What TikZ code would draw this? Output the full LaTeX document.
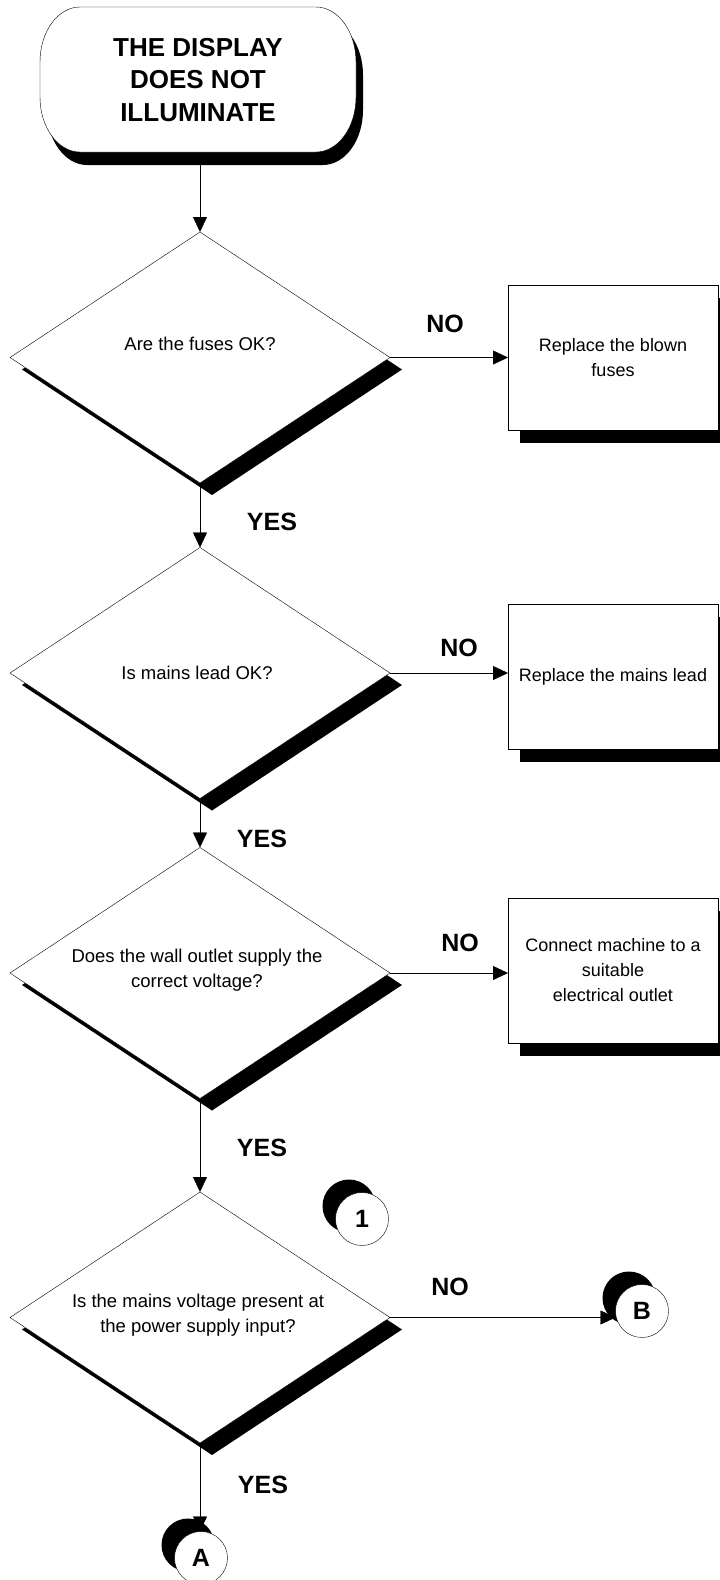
\documentclass[tikz,border=0pt]{standalone}
\usepackage{fontspec}
\setmainfont{Liberation Sans}
\usetikzlibrary{shapes.geometric,shadows,arrows.meta}
\pgfdeclarelayer{background}
\pgfsetlayers{background,main}
\begin{document}
\begin{tikzpicture}[x=1pt,y=1pt,line width=0.7pt,
  solidshade/.style 2 args={drop shadow={shadow xshift=#1,shadow yshift=#2,fill=black,opacity=1}},
  decision/.style={diamond,draw,fill=white,minimum width=380pt,minimum height=251pt,
    inner sep=0pt,outer sep=0pt,solidshade={12pt}{-12pt}},
  action/.style={rectangle,draw,fill=white,minimum width=210pt,minimum height=145pt,
    inner sep=0pt,outer sep=0pt,align=center,font=\fontsize{18}{25}\selectfont,
    solidshade={12pt}{-13pt}},
  qtext/.style={align=center,inner sep=0pt,font=\fontsize{18.5}{25}\selectfont},
  answer/.style={inner sep=0pt,font=\fontsize{25}{30}\selectfont\bfseries},
  joint/.style={circle,draw,fill=white,minimum size=53pt,inner sep=0pt,outer sep=0pt,
    font=\fontsize{25}{30}\selectfont\bfseries,solidshade={-13pt}{13pt}},
  flow/.style={-{Triangle[length=15pt,width=14pt]}}]

\useasboundingbox (0,0) rectangle (720,-1580);
\begin{pgfonlayer}{background}
  \fill[white] (0,0) rectangle (720,-1580);
\end{pgfonlayer}

% start terminal: shadow, then outline
\fill[black,shift={(7,-13)}] (80,-7) -- (316,-7)
  arc[start angle=90,end angle=0,x radius=40,y radius=55] -- (356,-97)
  arc[start angle=0,end angle=-90,x radius=40,y radius=55] -- (80,-152)
  arc[start angle=270,end angle=180,x radius=40,y radius=55] -- (40,-62)
  arc[start angle=180,end angle=90,x radius=40,y radius=55] -- cycle;
\draw[fill=white] (80,-7) -- (316,-7)
  arc[start angle=90,end angle=0,x radius=40,y radius=55] -- (356,-97)
  arc[start angle=0,end angle=-90,x radius=40,y radius=55] -- (80,-152)
  arc[start angle=270,end angle=180,x radius=40,y radius=55] -- (40,-62)
  arc[start angle=180,end angle=90,x radius=40,y radius=55] -- cycle;
\node[minimum width=316pt,minimum height=145pt,inner sep=0pt,outer sep=0pt,align=center,
  font=\fontsize{26}{32.5}\selectfont\bfseries] (start) at (198,-80)
  {THE DISPLAY\\DOES NOT\\ILLUMINATE};

% decisions
\node[decision] (d1) at (200,-357.5) {};
\node[qtext] (q1) at (200,-344) {Are the fuses OK?};
\node[decision] (d2) at (200,-673) {};
\node[qtext] (q2) at (197,-673) {Is mains lead OK?};
\node[decision] (d3) at (200,-973) {};
\node[qtext] (q3) at (197,-970.5) {Does the wall outlet supply the\\correct voltage?};
\node[decision] (d4) at (200,-1317.5) {};
\node[qtext] (q4) at (198,-1315.5) {Is the mains voltage present at\\the power supply input?};

% actions
\node[action] (b1) at (613,-357.5) {Replace the blown\\fuses};
\node[action] (b2) at (613,-676.5) {Replace the mains lead};
\node[action] (b3) at (613,-970.5) {Connect machine to a\\suitable\\electrical outlet};

% connectors
\node[joint] (c1) at (362,-1219) {1};
\node[joint] (cB) at (642,-1311) {B};
\node[joint] (cA) at (201,-1558) {A};

% answers
\node[answer] (n1) at (445,-324) {NO};
\node[answer] (n2) at (459,-648) {NO};
\node[answer] (n3) at (460,-943) {NO};
\node[answer] (n4) at (450,-1287) {NO};
\node[answer] (y1) at (272,-522) {YES};
\node[answer] (y2) at (262,-839) {YES};
\node[answer] (y3) at (262,-1148) {YES};
\node[answer] (y4) at (263,-1485) {YES};

\begin{pgfonlayer}{background}
  \draw[flow] (start.south -| d1.north) -- (d1.north);
  \draw[flow] (d1.south) -- (d2.north);
  \draw[flow] (d2.south) -- (d3.north);
  \draw[flow] (d3.south) -- (d4.north);
  \draw[flow] (d4.south) -- (d4.south |- cA.north);
  \draw[flow] (d1.east) -- (d1.east -| b1.west);
  \draw[flow] (d2.east) -- (d2.east -| b2.west);
  \draw[flow] (d3.east) -- (d3.east -| b3.west);
  \draw[flow] (d4.east) -- (d4.east -| cB.west);
\end{pgfonlayer}
\end{tikzpicture}
\end{document}
